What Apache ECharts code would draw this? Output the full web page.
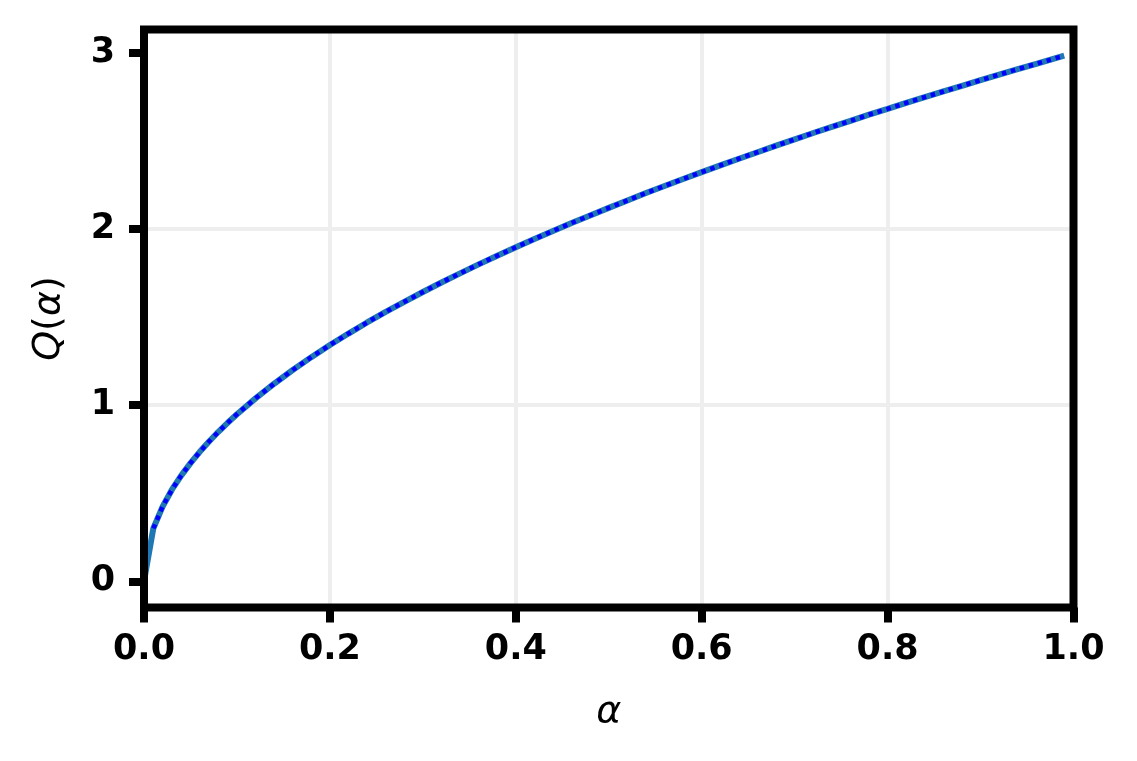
<!DOCTYPE html>
<html>
<head>
<meta charset="utf-8">
<script src="https://cdn.jsdelivr.net/npm/echarts@6/dist/echarts.min.js"></script>
<style>
  html, body { margin: 0; padding: 0; background: #fff; }
  #chart { width: 1137px; height: 761px; }
</style>
</head>
<body>
<div id="chart"></div>
<script>
// values
const alphaValues = [
  0, 0.01, 0.02, 0.03, 0.04, 0.05, 0.06, 0.07, 0.08, 0.09, 0.1,
  0.12, 0.14, 0.16, 0.18, 0.2, 0.22, 0.24, 0.26, 0.28, 0.3,
  0.32, 0.34, 0.36, 0.38, 0.4, 0.42, 0.44, 0.46, 0.48, 0.5,
  0.52, 0.54, 0.56, 0.58, 0.6, 0.62, 0.64, 0.66, 0.68, 0.7,
  0.72, 0.74, 0.76, 0.78, 0.8, 0.82, 0.84, 0.86, 0.88, 0.9,
  0.92, 0.94, 0.96, 0.98, 0.99,
]
const qValues = [
  0, 0.3, 0.424, 0.52, 0.6, 0.671, 0.735, 0.794, 0.849, 0.9, 0.949,
  1.039, 1.122, 1.2, 1.273, 1.342, 1.407, 1.47, 1.53, 1.587, 1.643,
  1.697, 1.749, 1.8, 1.849, 1.897, 1.944, 1.99, 2.035, 2.078, 2.121,
  2.163, 2.205, 2.245, 2.285, 2.324, 2.362, 2.4, 2.437, 2.474, 2.51,
  2.546, 2.581, 2.615, 2.65, 2.683, 2.717, 2.75, 2.782, 2.814, 2.846,
  2.878, 2.909, 2.939, 2.97, 2.985,
]
// the dotted curve starts at the second point
const dottedStart = 1

const xTicks = [0, 0.2, 0.4, 0.6, 0.8, 1.0]
const yTicks = [0, 1, 2, 3]

const font = 'DejaVu Sans'

const pairs = (xs, ys) => xs.map((x, i) => [x, ys[i]])

const chart = echarts.init(document.getElementById('chart'))

chart.setOption({
  animation: false,
  grid: {
    left: 144,
    right: 63.5,
    top: 29.5,
    bottom: 153.5,
    show: true,
    z: 10,
    borderColor: '#000',
    borderWidth: 8,
    backgroundColor: 'transparent',
  },
  xAxis: {
    type: 'value',
    min: 0,
    max: 1,
    name: 'α',
    nameLocation: 'middle',
    nameGap: 86,
    nameTextStyle: {
      fontFamily: font,
      fontStyle: 'italic',
      fontSize: 38,
      color: '#000',
    },
    axisLine: { show: false, onZero: false },
    axisTick: {
      show: true,
      inside: false,
      length: 15,
      customValues: xTicks,
      lineStyle: { color: '#000', width: 8 },
    },
    axisLabel: {
      margin: 25,
      customValues: xTicks,
      fontFamily: font,
      fontWeight: 'bold',
      fontSize: 35,
      color: '#000',
      formatter: (v) => v.toFixed(1),
    },
    splitLine: {
      show: true,
      showMinLine: false,
      showMaxLine: false,
      lineStyle: { color: '#eeeeee', width: 4 },
    },
  },
  yAxis: {
    type: 'value',
    min: -0.149,
    max: 3.134,
    name: '{i|Q}{n|(}{i|α}{n|)}',
    nameLocation: 'middle',
    nameGap: 76,
    nameRotate: 90,
    nameTextStyle: {
      fontFamily: font,
      fontSize: 38,
      color: '#000',
      rich: {
        i: { fontFamily: font, fontStyle: 'italic', fontSize: 38, color: '#000' },
        n: { fontFamily: font, fontSize: 38, color: '#000' },
      },
    },
    axisLine: { show: false, onZero: false },
    axisTick: {
      show: true,
      inside: false,
      length: 15,
      customValues: yTicks,
      lineStyle: { color: '#000', width: 8 },
    },
    axisLabel: {
      margin: 29,
      customValues: yTicks,
      fontFamily: font,
      fontWeight: 'bold',
      fontSize: 35,
      color: '#000',
    },
    splitLine: {
      show: true,
      showMinLine: false,
      showMaxLine: false,
      lineStyle: { color: '#eeeeee', width: 4 },
    },
  },
  series: [
    {
      type: 'line',
      data: pairs(alphaValues, qValues),
      showSymbol: false,
      smooth: false,
      lineStyle: { color: '#1f77b4', width: 6 },
      z: 2,
    },
    {
      type: 'line',
      data: pairs(alphaValues.slice(dottedStart), qValues.slice(dottedStart)),
      showSymbol: false,
      smooth: false,
      lineStyle: { color: '#0000ff', width: 4.5, type: [4.5, 4.8], cap: 'butt' },
      z: 3,
    },
  ],
})
</script>
</body>
</html>
